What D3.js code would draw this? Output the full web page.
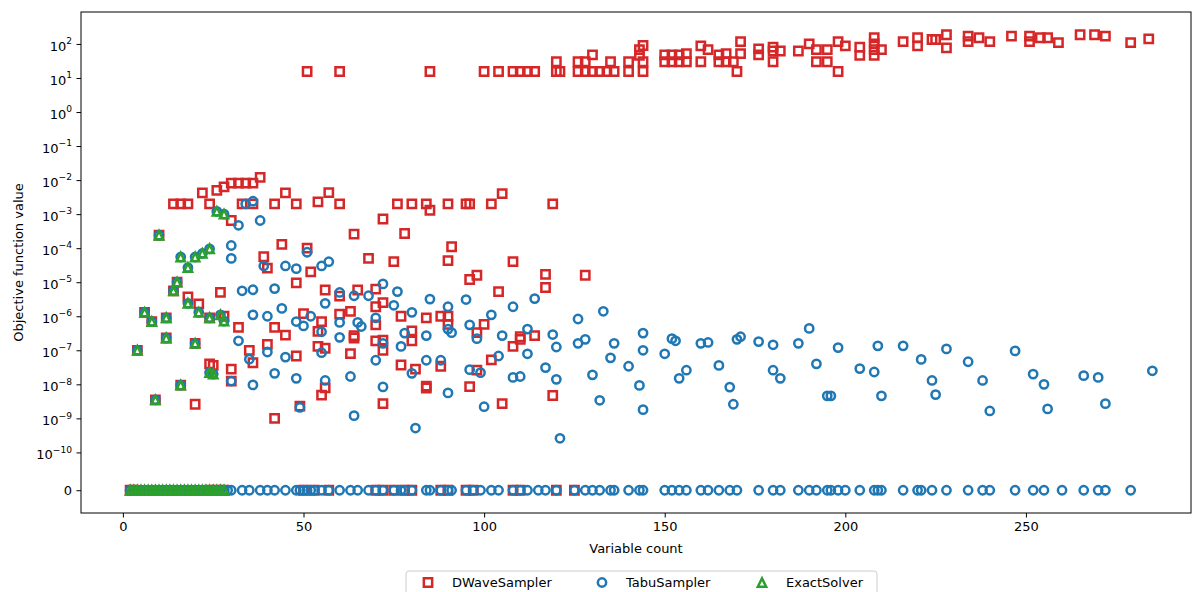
<!DOCTYPE html>
<html>
<head>
<meta charset="utf-8">
<script src="https://cdn.jsdelivr.net/npm/d3@7"></script>
<style>
body { margin: 0; background: #fff; }
text { font-family: "DejaVu Sans", sans-serif; fill: #000; }
</style>
</head>
<body>
<svg id="chart" width="1192" height="592"></svg>
<script>
// tick values
var xTicks = [0, 50, 100, 150, 200, 250];
var yTickExps = [-10, -9, -8, -7, -6, -5, -4, -3, -2, -1, 0, 1, 2];

// [variable count, objective value]
var dwavePoints = [
    [4, 1e-7], [6, 1.3e-6], [8, 7e-7], [9, 3.5e-9], [10, 2.4e-4], [12, 9e-7], [12, 2.3e-7],
    [14, 2e-3], [14, 5.6e-6], [15, 1e-5], [16, 2e-3], [16, 9.5e-9], [18, 2e-3], [18, 3.7e-6],
    [20, 1.6e-7], [20, 2.6e-9], [21, 2.3e-6], [22, 4.2e-3], [24, 2e-3], [24, 9e-7], [24, 4e-8],
    [25, 3.6e-8], [26, 5e-3], [27, 5e-6], [28, 6.3e-3], [28, 1e-6], [30, 8.1e-3], [30, 6.5e-4],
    [30, 2.8e-8], [30, 1.25e-8], [32, 8.1e-3], [32, 4.7e-7], [33, 2e-3], [34, 8.1e-3], [35, 1e-7],
    [36, 8.1e-3], [36, 2e-3], [36, 4.3e-8], [38, 1.2e-2], [39, 5.6e-5], [40, 2.6e-5], [40, 1.5e-7],
    [42, 2e-3], [42, 4.7e-7], [42, 1e-9], [44, 1.3e-4], [45, 4.2e-3], [45, 2.8e-7], [48, 2e-3],
    [48, 9.6e-6], [48, 6.8e-8], [49, 2.3e-9], [50, 1.2e-6], [51, 1e-4], [52, 2e-5], [54, 2.3e-3],
    [54, 3.6e-7], [54, 1.3e-7], [55, 7e-7], [55, 4.8e-9], [56, 5.9e-6], [56, 1.15e-7], [56, 7.9e-9],
    [57, 4.3e-3], [60, 2e-3], [60, 3.9e-6], [60, 1.15e-6], [63, 1.4e-6], [63, 8e-8], [64, 2.6e-4],
    [64, 2.7e-7], [64, 2.3e-7], [65, 5.9e-6], [68, 5e-5], [70, 6.3e-6], [70, 1.9e-6], [70, 5.6e-7],
    [70, 1.9e-7], [72, 7.2e-4], [72, 2.5e-6], [72, 2e-7], [72, 1e-7], [72, 2.7e-9], [75, 4e-5],
    [76, 2e-3], [77, 1e-6], [77, 3.7e-8], [78, 2.7e-4], [80, 2e-3], [80, 3.7e-7], [80, 1.9e-7],
    [81, 2.8e-8], [84, 2e-3], [84, 9e-7], [84, 8.8e-9], [84, 7.8e-9], [85, 1.3e-3], [88, 1e-6],
    [88, 3.4e-8], [90, 2e-3], [90, 4.3e-5], [90, 1e-6], [90, 5.8e-7], [91, 1.1e-4], [95, 2e-3],
    [96, 2e-3], [96, 1.2e-5], [96, 8.6e-9], [98, 1.6e-5], [98, 3.3e-7], [98, 2.6e-8], [100, 5.8e-7],
    [102, 2e-3], [102, 5.2e-8], [104, 5.3e-6], [105, 4e-3], [105, 2.7e-9], [108, 4e-5], [108, 1.3e-7],
    [110, 2.5e-7], [110, 2.1e-7], [114, 2.7e-7], [117, 1.7e-5], [117, 7e-6], [119, 2e-3], [119, 4.7e-9],
    [128, 1.6e-5],
    [51, 15.5], [60, 15.5], [85, 15.5], [100, 15.5], [104, 15.5], [108, 15.5], [110, 15.5],
    [112, 15.5], [114, 15.5], [120, 30], [120, 15.5], [121, 15.5], [126, 30], [126, 15.5],
    [128, 30], [128, 15.5], [130, 48], [130, 15.5], [132, 15.5], [134, 15.5], [135, 30], [136, 15.5],
    [140, 30], [140, 15.5], [143, 68], [143, 46], [144, 30], [144, 15.5], [144, 90], [150, 48],
    [150, 30], [152, 48], [152, 30], [154, 48], [154, 30], [156, 52], [156, 30], [160, 88], [160, 30],
    [162, 68], [165, 48], [165, 30], [167, 52], [167, 30], [169, 30], [170, 15.5], [171, 117],
    [171, 52], [176, 72], [176, 48], [180, 81], [180, 62], [180, 30], [182, 62], [187, 62], [190, 100],
    [192, 68], [192, 30], [195, 68], [195, 30], [198, 117], [198, 15.5], [200, 88], [204, 81],
    [204, 46], [208, 152], [208, 100], [208, 68], [208, 46], [210, 68], [216, 117], [220, 152],
    [220, 88], [224, 135], [225, 135], [228, 186], [228, 77], [234, 170], [234, 117], [237, 152],
    [240, 117], [246, 170], [251, 170], [251, 117], [254, 152], [256, 152], [259, 110], [265, 186],
    [269, 186], [272, 170], [279, 110], [284, 140]
];
var dwaveZeroX = [2, 3, 24, 26, 28, 50, 53, 57, 70, 72, 75, 78, 80, 88, 90, 95, 97, 108, 110, 120, 125];

var tabuPoints = [
    [4, 1e-7], [6, 1.3e-6], [8, 7e-7], [9, 3.5e-9], [10, 2.4e-4], [12, 9e-7], [12, 2.3e-7],
    [14, 5.6e-6], [15, 1e-5], [16, 5.5e-5], [16, 9.5e-9], [18, 2.7e-5], [18, 2.4e-6], [20, 5.5e-5],
    [20, 1.6e-7], [21, 1.3e-6], [22, 7e-5], [24, 9.6e-5], [24, 9e-7], [24, 2.2e-8], [25, 2e-8],
    [26, 1.2e-3], [27, 1.1e-6], [28, 1e-3], [28, 7.2e-7],
    [30, 1.2e-4], [30, 5e-5], [30, 1.25e-8], [32, 4.7e-4], [32, 1.9e-7], [33, 5.6e-6], [34, 2e-3],
    [35, 5.5e-8], [36, 2.4e-3], [36, 6e-6], [36, 1.1e-6], [36, 9.6e-9], [38, 6.5e-4], [39, 3e-5],
    [40, 1e-6], [40, 8.9e-8], [42, 6.5e-6], [42, 2.1e-8], [44, 1.7e-6], [45, 3e-5], [45, 6.3e-8],
    [48, 2.5e-5], [48, 7e-7], [48, 1.5e-8], [49, 2.1e-9], [50, 5.2e-7], [51, 7.6e-5], [52, 1e-6],
    [55, 3e-5], [55, 3.5e-7], [55, 8.5e-8], [56, 2.4e-6], [56, 1.3e-8], [57, 4e-5], [60, 5e-6],
    [60, 6.6e-7], [60, 2.4e-7], [63, 1.7e-8], [64, 4e-6], [64, 1.2e-9], [65, 6.6e-7], [66, 5e-7],
    [68, 4e-6], [70, 9e-7], [70, 5.1e-8], [72, 8.9e-6], [72, 1.6e-7], [72, 8.4e-9], [75, 2.1e-6],
    [76, 5.3e-6], [77, 1.3e-7], [78, 3.2e-7], [80, 1.3e-6], [80, 2.1e-8], [81, 5.2e-10], [84, 2.7e-7],
    [84, 5.1e-8], [85, 3.2e-6], [88, 5.1e-8], [90, 1.9e-6], [90, 4.2e-7], [90, 5.6e-9], [91, 3.3e-7],
    [95, 3.1e-6], [96, 5.6e-7], [96, 2.7e-8], [98, 2.2e-7], [99, 2.2e-8], [100, 2.2e-9], [102, 1.1e-6],
    [104, 6.8e-8], [105, 2.7e-7], [108, 1.9e-6], [108, 1.6e-8], [110, 1.7e-8], [112, 4.2e-7],
    [112, 7.9e-8], [114, 3.3e-6], [117, 3.1e-8], [119, 2.9e-7], [120, 1.25e-7], [120, 1.4e-8],
    [121, 2.6e-10], [126, 8.3e-7], [126, 1.6e-7], [128, 2.1e-7], [130, 1.9e-8], [132, 3.4e-9],
    [133, 1.4e-6], [135, 6e-8], [136, 1.6e-7], [140, 3.4e-8], [143, 9.3e-9], [144, 3.2e-7],
    [144, 1e-7], [144, 1.8e-9], [150, 7.9e-8], [152, 2.2e-7], [153, 1.9e-7], [154, 1.5e-8],
    [156, 2.6e-8], [160, 1.6e-7], [162, 1.7e-7], [165, 3.6e-8], [168, 8.3e-9], [169, 2.6e-9],
    [170, 2.1e-7], [171, 2.5e-7], [176, 1.8e-7], [180, 1.45e-7], [180, 2.6e-8], [182, 1.5e-8],
    [187, 1.6e-7], [190, 4.4e-7], [192, 4e-8], [195, 4.6e-9], [196, 4.6e-9], [198, 1.2e-7],
    [204, 2.9e-8], [208, 2.3e-8], [209, 1.35e-7], [210, 4.6e-9], [216, 1.35e-7], [221, 5.4e-8],
    [224, 1.3e-8], [225, 5e-9], [228, 1.1e-7], [234, 4.6e-8], [238, 1.3e-8], [240, 1.65e-9],
    [247, 9.6e-8], [252, 2e-8], [255, 1e-8], [256, 1.9e-9], [266, 1.8e-8], [270, 1.6e-8],
    [272, 2.7e-9], [285, 2.5e-8]
];
var tabuZeroX = [
    2, 3, 4, 5, 6, 7, 8, 9, 10, 11, 12, 13, 14, 15, 16, 17, 18, 19, 20, 21, 22, 23, 24, 25, 26, 27, 28, 29,
    30, 33, 35, 38, 40, 42, 45, 48, 49, 50, 51, 52, 53, 55, 57, 60, 63, 65, 68, 70, 72, 75, 77, 78, 80,
    84, 85, 88, 90, 91, 95, 97, 99, 102, 104, 108, 110, 112, 115, 117, 120, 125, 128, 130, 132, 135,
    136, 140, 143, 144, 150, 152, 154, 156, 160, 162, 165, 168, 170, 176, 180, 182, 187, 190, 192, 195,
    196, 198, 200, 204, 208, 209, 210, 216, 220, 221, 224, 228, 234, 238, 240, 247, 252, 255, 260, 266,
    270, 272, 279
];

var exactPoints = [
    [4, 1e-7], [6, 1.3e-6], [8, 7e-7], [9, 3.5e-9], [10, 2.4e-4], [12, 9e-7], [12, 2.3e-7],
    [14, 5.6e-6], [15, 1e-5], [16, 5.5e-5], [16, 9.5e-9], [18, 2.7e-5], [18, 2.4e-6], [20, 5.5e-5],
    [20, 1.6e-7], [21, 1.3e-6], [22, 7e-5], [24, 9.6e-5], [24, 9e-7], [24, 2.2e-8], [25, 2e-8],
    [26, 1.2e-3], [27, 1.1e-6], [28, 1e-3], [28, 7.2e-7]
];
var exactZeroX = [2, 3, 4, 5, 6, 7, 8, 9, 10, 11, 12, 13, 14, 15, 16, 17, 18, 19, 20, 21, 22, 23, 24, 25, 26, 27, 28];

var seriesNames = ['DWaveSampler', 'TabuSampler', 'ExactSolver'];
var seriesColors = ['#d62728', '#1f77b4', '#2ca02c'];

// symlog like matplotlib, linthresh 1e-10, linscale 1
var LINTHRESH = 1e-10;
var LINSCALE = 1 / (1 - 1 / 10);
function symlog(v) {
    var a = Math.abs(v);
    var t = a <= LINTHRESH ? a / LINTHRESH * LINSCALE : LINSCALE + Math.log10(a / LINTHRESH);
    return v < 0 ? -t : t;
}

var margin = {left: 81, top: 12, right: 1191, bottom: 513};
var svg = d3.select('#chart');

function withZeros(points, zeros) {
    return points.concat(zeros.map(function (x) { return [x, 0]; }));
}
var allData = [
    withZeros(dwavePoints, dwaveZeroX),
    withZeros(tabuPoints, tabuZeroX),
    withZeros(exactPoints, exactZeroX)
];

var x = d3.scaleLinear().domain([-11.6, 295.7]).range([margin.left, margin.right]);

var tAll = [];
allData.forEach(function (s) { s.forEach(function (d) { tAll.push(symlog(d[1])); }); });
var tExt = d3.extent(tAll);
var tPad = (tExt[1] - tExt[0]) * 0.05;
var yT = d3.scaleLinear().domain([tExt[0] - tPad, tExt[1] + tPad]).range([margin.bottom, margin.top]);
function y(v) { return yT(symlog(v)); }

var MS = 8.3;
var MEW = 2.5;
function markerPath(kind) {
    var h = MS / 2;
    if (kind === 0) return 'M' + (-h) + ',' + (-h) + 'H' + h + 'V' + h + 'H' + (-h) + 'Z';
    if (kind === 1) return d3.symbol().type(d3.symbolCircle).size(Math.PI * h * h)();
    return 'M0,' + (-h) + 'L' + h + ',' + h + 'L' + (-h) + ',' + h + 'Z';
}

// axes
var xAxis = d3.axisBottom(x).tickValues(xTicks).tickSize(4.5).tickPadding(4);
var gx = svg.append('g').attr('transform', 'translate(0,' + margin.bottom + ')').call(xAxis);
gx.select('.domain').remove();
gx.selectAll('.tick line').attr('stroke', '#000').attr('stroke-width', 1);
gx.selectAll('.tick text').attr('font-size', 13).attr('font-family', 'DejaVu Sans');

var yAxis = d3.axisLeft(yT)
    .tickValues([0].concat(yTickExps.map(function (e) { return symlog(Math.pow(10, e)); })))
    .tickSize(4.5).tickPadding(4.5).tickFormat('');
var gy = svg.append('g').attr('transform', 'translate(' + margin.left + ',0)').call(yAxis);
gy.select('.domain').remove();
gy.selectAll('.tick line').attr('stroke', '#000').attr('stroke-width', 1);
gy.selectAll('.tick text').each(function (d, i) {
    var t = d3.select(this).attr('font-size', 13).attr('font-family', 'DejaVu Sans').attr('dy', '0.32em');
    if (i === 0) {
        t.text('0');
        return;
    }
    var e = yTickExps[i - 1];
    t.attr('dy', '0.5em');
    t.append('tspan').text('10');
    t.append('tspan').attr('font-size', 9.1).attr('dy', '-0.75em').text(String(e).replace('-', '\u2212'));
});

// points
allData.forEach(function (s, k) {
    svg.append('g').selectAll('path')
        .data(s)
        .enter().append('path')
        .attr('d', markerPath(k))
        .attr('transform', function (d) { return 'translate(' + x(d[0]) + ',' + y(d[1]) + ')'; })
        .attr('fill', 'none')
        .attr('stroke', seriesColors[k])
        .attr('stroke-width', MEW);
});

// frame
svg.append('rect')
    .attr('x', margin.left).attr('y', margin.top)
    .attr('width', margin.right - margin.left).attr('height', margin.bottom - margin.top)
    .attr('fill', 'none').attr('stroke', '#000').attr('stroke-width', 1);

// labels
svg.append('text').attr('x', (margin.left + margin.right) / 2).attr('y', 553)
    .attr('text-anchor', 'middle').attr('font-size', 13).text('Variable count');
svg.append('text').attr('transform', 'translate(23,' + (margin.top + margin.bottom) / 2 + ') rotate(-90)')
    .attr('text-anchor', 'middle').attr('font-size', 13).text('Objective function value');

// legend
var legend = svg.append('g');
legend.append('rect').attr('x', 406).attr('y', 571).attr('width', 471).attr('height', 40)
    .attr('rx', 3).attr('fill', '#fff').attr('fill-opacity', 0.8).attr('stroke', '#ccc');
var legX = [428, 602, 762];
seriesNames.forEach(function (name, k) {
    legend.append('path').attr('d', markerPath(k))
        .attr('transform', 'translate(' + legX[k] + ',582.5)')
        .attr('fill', 'none').attr('stroke', seriesColors[k]).attr('stroke-width', MEW);
    legend.append('text').attr('x', legX[k] + 24).attr('y', 587).attr('font-size', 13).text(name);
});
</script>
</body>
</html>
